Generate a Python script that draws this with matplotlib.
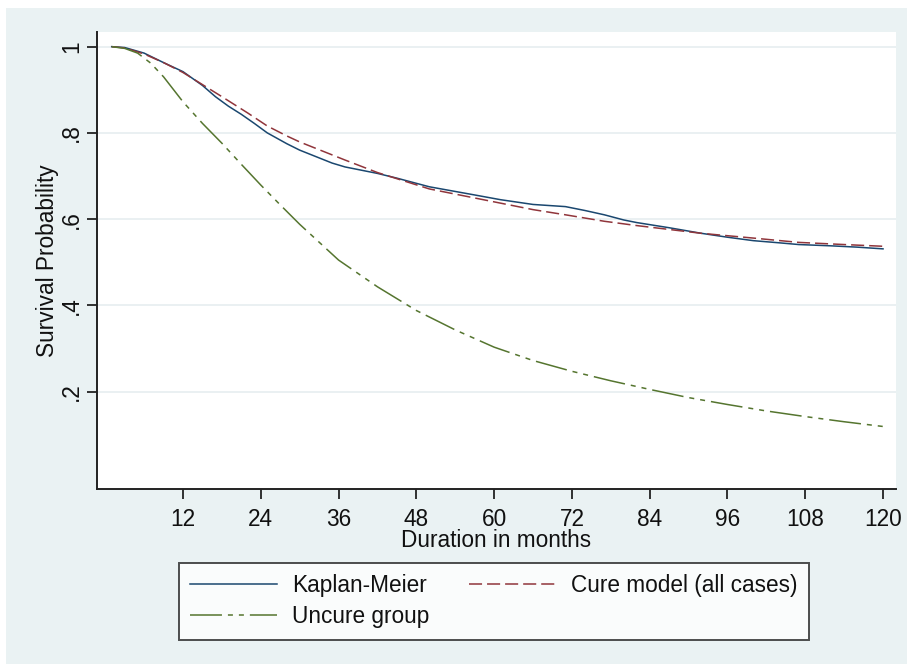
import matplotlib
matplotlib.use("Agg")
import matplotlib.pyplot as plt
from matplotlib.patches import Rectangle

plt.rcParams['font.family'] = ['Liberation Sans', 'DejaVu Sans']
plt.rcParams['lines.scale_dashes'] = False

# ---- data ----
km_months = [1, 3, 6, 9, 12, 15, 17, 19, 21, 23, 25, 28, 30, 33, 35, 37, 42, 45, 50, 57,
             61, 66, 71, 74, 77, 80, 82, 87, 92, 96, 100, 104, 107, 112, 116, 120]
km_surv = [1.0, 0.998, 0.985, 0.963, 0.942, 0.91, 0.884, 0.862, 0.843, 0.822, 0.8, 0.775,
           0.76, 0.742, 0.73, 0.721, 0.706, 0.695, 0.675, 0.656, 0.645, 0.634, 0.629,
           0.62, 0.61, 0.598, 0.592, 0.58, 0.567, 0.558, 0.55, 0.545, 0.541, 0.538,
           0.535, 0.531]

cure_months = [1, 3, 6, 9, 12, 15, 18, 20, 22, 25, 28, 30, 33, 35, 37, 42, 50, 57, 66,
               71, 77, 82, 92, 100, 107, 114, 120]
cure_surv = [1.0, 0.997, 0.983, 0.963, 0.94, 0.912, 0.884, 0.865, 0.846, 0.816, 0.793,
             0.779, 0.761, 0.749, 0.737, 0.708, 0.67, 0.649, 0.622, 0.61, 0.595, 0.585,
             0.567, 0.556, 0.546, 0.541, 0.537]

uncure_months = [1, 3, 5, 7, 9, 12, 15, 18, 21, 24, 27, 30, 36, 42, 48, 54, 60, 66, 72,
                 78, 84, 90, 96, 102, 108, 114, 120]
uncure_surv = [1.0, 0.996, 0.985, 0.962, 0.93, 0.872, 0.822, 0.776, 0.727, 0.679, 0.633,
               0.588, 0.505, 0.443, 0.388, 0.343, 0.303, 0.272, 0.247, 0.225, 0.205,
               0.186, 0.17, 0.155, 0.142, 0.13, 0.119]

x_ticks = [12, 24, 36, 48, 60, 72, 84, 96, 108, 120]
y_ticks = [0.2, 0.4, 0.6, 0.8, 1.0]
y_tick_labels = ['.2', '.4', '.6', '.8', '1']

series_labels = ['Kaplan-Meier', 'Cure model (all cases)', 'Uncure group']

# ---- figure ----
W, H = 907, 664
fig = plt.figure(figsize=(W / 100, H / 100), dpi=100, facecolor='white')
bg = Rectangle((6 / W, 0), 1 - 6 / W, 1 - 8 / H, transform=fig.transFigure,
               facecolor='#EAF2F3', edgecolor='none', zorder=-10)
fig.patches.append(bg)

ax = fig.add_axes([97 / W, 1 - 489 / H, (896 - 97) / W, (489 - 32) / H])
ax.set_facecolor('white')

fs = 16.3
l1, = ax.plot(km_months, km_surv, color='#1A476F', lw=1.1, label=series_labels[0],
              solid_joinstyle='round')
l2, = ax.plot(cure_months, cure_surv, color='#90353B', lw=1.1, label=series_labels[1])
l2.set_dashes([9.4, 3.6])
l3, = ax.plot(uncure_months, uncure_surv, color='#55752F', lw=1.1, label=series_labels[2])
l3.set_dashes([23, 4.3, 3.6, 4.3, 3.6, 4.3])

ax.set_xlim(-1.27, 122.0)
ax.set_ylim(-0.026, 1.034)

ax.set_xticks(x_ticks)
ax.set_xticklabels([str(t) for t in x_ticks], fontsize=fs)
ax.set_yticks(y_ticks)
ax.set_yticklabels(y_tick_labels, fontsize=fs, rotation=90, va='center')

ax.grid(axis='y', color='#E6EEF0', lw=1.2)
ax.set_axisbelow(True)
for s in ['top', 'right']:
    ax.spines[s].set_visible(False)
for s in ['left', 'bottom']:
    ax.spines[s].set_linewidth(1.4)
    ax.spines[s].set_color('#222222')
ax.tick_params(axis='both', direction='out', length=7.5, width=1.3, color='#222222',
               labelcolor='#111111')
ax.tick_params(axis='x', pad=6.5)
ax.tick_params(axis='y', pad=2.5)

ax.set_xlabel('Duration in months', fontsize=fs, labelpad=-1.5, color='#111111')
ax.set_ylabel('Survival Probability', fontsize=fs, labelpad=1, color='#111111')

leg = fig.legend(handles=[l1, l3, l2], loc='upper left', ncol=2,
                 bbox_to_anchor=(179 / W, 1 - 563 / H), bbox_transform=fig.transFigure,
                 fontsize=fs, frameon=True, fancybox=False, borderaxespad=0,
                 handlelength=3.85, handletextpad=0.65, columnspacing=1.75,
                 borderpad=0.5, labelspacing=0.35)
leg.get_frame().set_edgecolor('#222222')
leg.get_frame().set_linewidth(1.4)
leg.get_frame().set_facecolor('white')
for t in leg.get_texts():
    t.set_color('#111111')

fig.savefig('out.png', dpi=100, facecolor=fig.get_facecolor())
